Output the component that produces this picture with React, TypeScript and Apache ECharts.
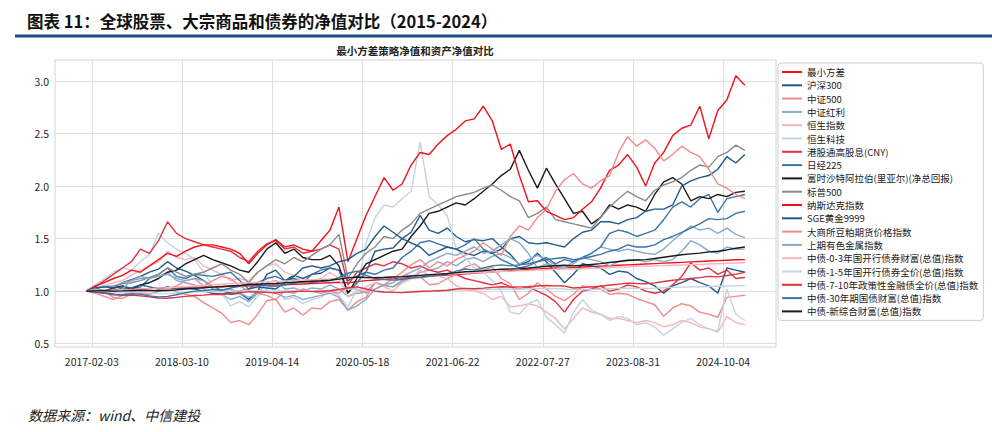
import React, { useEffect, useRef } from 'react';
import * as echarts from 'echarts';

// sample dates: day offsets from 2017-02-03, one sample every 40 days
const firstSampleDay = -24;
const sampleStep = 40;
const sampleCount = 74;
const sampleDays: number[] = Array.from({ length: sampleCount }, (_, i) => firstSampleDay + sampleStep * i);

const xTickDays = [0, 400, 800, 1200, 1600, 2000, 2400, 2800];
const xTickLabels = ['2017-02-03', '2018-03-10', '2019-04-14', '2020-05-18', '2021-06-22', '2022-07-27', '2023-08-31', '2024-10-04'];
const yTickValues = [0.5, 1.0, 1.5, 2.0, 2.5, 3.0];

const seriesNames = [
  '最小方差', '沪深300', '中证500', '中证红利', '恒生指数', '恒生科技', '港股通高股息(CNY)', '日经225',
  '富时沙特阿拉伯(里亚尔)(净总回报)', '标普500', '纳斯达克指数', 'SGE黄金9999', '大商所豆粕期货价格指数',
  '上期有色金属指数', '中债-0-3年国开行债券财富(总值)指数', '中债-1-5年国开行债券全价(总值)指数',
  '中债-7-10年政策性金融债全价(总值)指数', '中债-30年期国债财富(总值)指数', '中债-新综合财富(总值)指数',
];

const minVar = [
  1.000, 1.004, 1.008, 1.010, 1.014, 1.018, 1.020, 1.024, 1.028, 1.030,
  1.034, 1.036, 1.038, 1.040, 1.042, 1.044, 1.046, 1.048, 1.050, 1.052,
  1.055, 1.058, 1.060, 1.064, 1.068, 1.072, 1.076, 1.080, 1.084, 1.078,
  1.090, 1.100, 1.106, 1.112, 1.118, 1.124, 1.130, 1.136, 1.140, 1.146,
  1.152, 1.158, 1.164, 1.170, 1.176, 1.182, 1.188, 1.194, 1.200, 1.208,
  1.212, 1.216, 1.220, 1.222, 1.226, 1.230, 1.234, 1.238, 1.242, 1.246,
  1.250, 1.254, 1.258, 1.262, 1.266, 1.270, 1.274, 1.278, 1.282, 1.286,
  1.290, 1.294, 1.298, 1.300,
];
const hs300 = [
  1.00, 1.02, 1.05, 1.03, 1.08, 1.11, 1.14, 1.18, 1.21, 1.28,
  1.22, 1.19, 1.15, 1.10, 1.04, 1.01, 0.97, 0.98, 0.92, 1.00,
  1.16, 1.20, 1.10, 1.15, 1.12, 1.16, 1.17, 1.22, 1.20, 1.10,
  1.14, 1.18, 1.38, 1.40, 1.41, 1.50, 1.56, 1.72, 1.58, 1.55,
  1.60, 1.52, 1.47, 1.49, 1.48, 1.50, 1.42, 1.35, 1.25, 1.28,
  1.36, 1.28, 1.18, 1.08, 1.16, 1.26, 1.24, 1.22, 1.16, 1.19,
  1.18, 1.12, 1.09, 1.05, 0.98, 1.05, 1.08, 1.12, 1.08, 1.05,
  0.98, 1.22, 1.20, 1.18,
];
const zz500 = [
  1.00, 0.99, 1.00, 0.94, 0.93, 0.97, 0.99, 0.97, 1.00, 1.04,
  0.99, 0.97, 0.95, 0.89, 0.84, 0.79, 0.70, 0.72, 0.68, 0.78,
  0.91, 0.92, 0.80, 0.84, 0.77, 0.84, 0.83, 0.90, 0.92, 0.82,
  0.90, 0.94, 1.08, 1.06, 1.04, 1.08, 1.12, 1.14, 1.06, 1.07,
  1.12, 1.16, 1.23, 1.26, 1.20, 1.23, 1.12, 1.07, 0.92, 0.98,
  1.08, 1.02, 0.95, 0.91, 0.97, 1.05, 1.04, 1.02, 0.97, 0.98,
  0.97, 0.93, 0.90, 0.87, 0.76, 0.84, 0.88, 0.86, 0.80, 0.78,
  0.75, 0.94, 0.95, 0.96,
];
const zzhl = [
  1.00, 1.03, 1.05, 1.04, 1.08, 1.10, 1.12, 1.13, 1.14, 1.18,
  1.10, 1.08, 1.06, 1.02, 0.98, 0.97, 0.92, 0.95, 0.90, 0.98,
  1.08, 1.10, 1.02, 1.03, 1.00, 1.03, 1.02, 1.06, 1.02, 0.95,
  0.98, 0.99, 1.08, 1.05, 1.04, 1.10, 1.12, 1.18, 1.20, 1.22,
  1.28, 1.24, 1.30, 1.32, 1.28, 1.33, 1.36, 1.32, 1.26, 1.30,
  1.34, 1.30, 1.25, 1.22, 1.28, 1.32, 1.36, 1.42, 1.40, 1.38,
  1.40, 1.38, 1.36, 1.35, 1.40, 1.48, 1.55, 1.62, 1.58, 1.60,
  1.55, 1.60, 1.54, 1.51,
];
const hsi = [
  1.00, 1.03, 1.05, 1.08, 1.10, 1.15, 1.20, 1.24, 1.28, 1.38,
  1.32, 1.30, 1.32, 1.24, 1.20, 1.16, 1.10, 1.12, 1.10, 1.18,
  1.24, 1.26, 1.18, 1.15, 1.08, 1.10, 1.12, 1.18, 1.12, 0.95,
  1.00, 1.04, 1.08, 1.04, 1.00, 1.08, 1.12, 1.20, 1.15, 1.14,
  1.12, 1.05, 1.02, 1.00, 0.98, 0.92, 0.95, 0.85, 0.86, 0.88,
  0.86, 0.80, 0.74, 0.64, 0.74, 0.84, 0.80, 0.78, 0.74, 0.74,
  0.72, 0.70, 0.72, 0.70, 0.66, 0.68, 0.72, 0.70, 0.66, 0.64,
  0.61, 0.76, 0.70, 0.68,
];
const hstech = [
  1.00, 1.06, 1.12, 1.18, 1.22, 1.20, 1.28, 1.35, 1.55, 1.46,
  1.40, 1.36, 1.30, 1.18, 1.05, 0.98, 0.86, 0.90, 0.85, 0.95,
  1.02, 1.05, 0.92, 0.94, 0.88, 0.92, 0.94, 1.00, 0.96, 0.85,
  1.02, 1.45, 1.70, 1.82, 1.80, 1.88, 1.95, 2.42, 1.90, 1.82,
  1.72, 1.40, 1.32, 1.22, 1.18, 1.10, 1.00, 0.80, 0.78, 0.88,
  0.92, 0.75, 0.68, 0.60, 0.80, 0.92, 0.82, 0.78, 0.72, 0.76,
  0.74, 0.68, 0.70, 0.66, 0.58, 0.64, 0.70, 0.74, 0.68, 0.64,
  0.62, 1.02, 0.78, 0.72,
];
const hkDividend = [
  1.00, 1.04, 1.10, 1.16, 1.22, 1.28, 1.40, 1.36, 1.48, 1.66,
  1.55, 1.50, 1.47, 1.44, 1.42, 1.40, 1.38, 1.32, 1.28, 1.38,
  1.45, 1.48, 1.40, 1.42, 1.36, 1.38, 1.40, 1.44, 1.40, 1.06,
  1.18, 1.22, 1.26, 1.24, 1.28, 1.26, 1.22, 1.24, 1.20, 1.18,
  1.20, 1.16, 1.12, 1.10, 1.08, 1.06, 1.08, 1.04, 1.02, 1.04,
  1.00, 0.96, 0.90, 0.80, 0.92, 1.00, 1.02, 1.05, 1.00, 1.02,
  1.06, 1.04, 1.00, 0.98, 1.00, 1.06, 1.14, 1.27, 1.20, 1.22,
  1.16, 1.20, 1.12, 1.13,
];
const nikkei = [
  1.00, 0.99, 0.98, 1.00, 1.03, 1.02, 1.04, 1.12, 1.16, 1.22,
  1.14, 1.12, 1.16, 1.15, 1.14, 1.16, 1.18, 1.10, 1.02, 1.08,
  1.12, 1.14, 1.10, 1.12, 1.08, 1.16, 1.20, 1.22, 1.20, 0.98,
  1.08, 1.18, 1.16, 1.20, 1.22, 1.32, 1.38, 1.46, 1.48, 1.45,
  1.42, 1.40, 1.44, 1.50, 1.40, 1.36, 1.30, 1.26, 1.22, 1.24,
  1.28, 1.32, 1.26, 1.30, 1.28, 1.32, 1.36, 1.42, 1.55, 1.58,
  1.56, 1.52, 1.55, 1.58, 1.68, 1.80, 1.85, 1.80, 1.88, 1.92,
  1.75, 1.88, 1.90, 1.92,
];
const saudi = [
  1.00, 1.02, 1.00, 1.03, 1.05, 1.02, 1.06, 1.08, 1.12, 1.18,
  1.20, 1.26, 1.30, 1.34, 1.30, 1.27, 1.24, 1.20, 1.18, 1.28,
  1.40, 1.46, 1.36, 1.40, 1.32, 1.30, 1.30, 1.34, 1.24, 0.98,
  1.12, 1.26, 1.30, 1.34, 1.38, 1.40, 1.52, 1.62, 1.74, 1.76,
  1.80, 1.84, 1.82, 1.88, 1.95, 2.02, 2.10, 2.16, 2.34, 2.15,
  1.98, 2.17, 2.02, 1.88, 1.74, 1.76, 1.64, 1.70, 1.82, 1.78,
  1.82, 1.80, 1.76, 1.92, 2.04, 2.08, 2.02, 1.86, 1.90, 1.88,
  1.92, 1.90, 1.94, 1.95,
];
const spx = [
  1.00, 1.03, 1.04, 1.05, 1.07, 1.08, 1.10, 1.13, 1.16, 1.22,
  1.18, 1.14, 1.16, 1.18, 1.22, 1.26, 1.20, 1.16, 1.08, 1.18,
  1.24, 1.30, 1.26, 1.32, 1.28, 1.34, 1.40, 1.44, 1.54, 1.12,
  1.26, 1.36, 1.42, 1.52, 1.50, 1.58, 1.64, 1.74, 1.78, 1.82,
  1.86, 1.90, 1.92, 1.94, 1.98, 2.01, 1.96, 1.90, 1.86, 1.70,
  1.74, 1.80, 1.68, 1.66, 1.64, 1.62, 1.60, 1.70, 1.80, 1.88,
  1.95, 1.90, 1.86, 1.96, 2.01, 2.04, 2.08, 2.15, 2.20, 2.18,
  2.28, 2.32, 2.39, 2.34,
];
const nasdaq = [
  1.00, 1.05, 1.08, 1.12, 1.15, 1.20, 1.18, 1.24, 1.30, 1.36,
  1.33, 1.38, 1.42, 1.44, 1.44, 1.42, 1.40, 1.36, 1.26, 1.36,
  1.44, 1.49, 1.42, 1.44, 1.40, 1.38, 1.48, 1.58, 1.80, 1.28,
  1.50, 1.72, 1.90, 2.08, 1.96, 2.02, 2.20, 2.32, 2.30, 2.40,
  2.48, 2.54, 2.62, 2.64, 2.76, 2.62, 2.35, 2.40, 2.10, 1.85,
  1.86, 1.76, 1.72, 1.68, 1.70, 1.78, 1.85, 1.98, 2.15, 2.20,
  2.30, 2.18, 2.00, 2.22, 2.32, 2.48, 2.55, 2.58, 2.76, 2.45,
  2.72, 2.82, 3.05, 2.96,
];
const gold = [
  1.00, 1.03, 1.04, 1.03, 1.04, 1.03, 1.06, 1.04, 1.02, 1.04,
  1.02, 1.03, 1.02, 1.00, 0.98, 0.97, 0.99, 1.00, 1.02, 1.04,
  1.03, 1.02, 1.08, 1.14, 1.22, 1.24, 1.22, 1.24, 1.28, 1.30,
  1.36, 1.40, 1.52, 1.62, 1.56, 1.50, 1.46, 1.42, 1.34, 1.38,
  1.42, 1.40, 1.36, 1.34, 1.38, 1.36, 1.40, 1.50, 1.52, 1.46,
  1.45, 1.46, 1.44, 1.42, 1.50, 1.56, 1.58, 1.66, 1.66, 1.64,
  1.68, 1.70, 1.76, 1.78, 1.78, 1.82, 2.00, 2.05, 2.08, 2.10,
  2.16, 2.28, 2.22, 2.30,
];
const soymeal = [
  1.00, 0.98, 0.95, 0.92, 0.96, 1.00, 0.98, 0.97, 1.00, 1.02,
  1.05, 1.10, 1.12, 1.05, 1.10, 1.14, 1.12, 1.05, 1.00, 0.98,
  0.96, 0.92, 1.00, 0.98, 1.02, 1.00, 0.98, 1.00, 0.98, 1.04,
  1.02, 0.98, 1.02, 1.06, 1.12, 1.18, 1.25, 1.30, 1.22, 1.28,
  1.24, 1.30, 1.34, 1.38, 1.46, 1.40, 1.34, 1.52, 1.62, 1.58,
  1.70, 1.78, 1.95, 2.06, 2.12, 2.02, 1.98, 2.05, 2.10, 2.32,
  2.47, 2.38, 2.44, 2.36, 2.24, 2.30, 2.38, 2.32, 2.28, 2.16,
  2.02, 1.98, 1.92, 1.88,
];
const shfeMetals = [
  1.00, 1.02, 1.00, 0.98, 1.02, 1.10, 1.14, 1.12, 1.14, 1.16,
  1.12, 1.10, 1.12, 1.10, 1.02, 1.00, 1.02, 0.98, 0.94, 0.98,
  1.00, 0.98, 0.94, 0.96, 0.92, 0.94, 0.96, 0.98, 0.94, 0.82,
  0.86, 0.92, 1.02, 1.06, 1.08, 1.14, 1.18, 1.22, 1.28, 1.32,
  1.36, 1.34, 1.38, 1.42, 1.36, 1.38, 1.44, 1.50, 1.46, 1.36,
  1.22, 1.26, 1.24, 1.22, 1.26, 1.32, 1.30, 1.28, 1.24, 1.28,
  1.30, 1.30, 1.28, 1.30, 1.28, 1.30, 1.38, 1.48, 1.44, 1.38,
  1.36, 1.42, 1.40, 1.40,
];
const cdb03 = [
  1.000, 1.003, 1.006, 1.008, 1.012, 1.016, 1.020, 1.024, 1.028, 1.032,
  1.036, 1.042, 1.048, 1.054, 1.060, 1.065, 1.070, 1.075, 1.080, 1.084,
  1.088, 1.092, 1.096, 1.100, 1.104, 1.108, 1.112, 1.116, 1.120, 1.126,
  1.130, 1.130, 1.132, 1.135, 1.138, 1.142, 1.146, 1.150, 1.154, 1.158,
  1.162, 1.166, 1.170, 1.174, 1.178, 1.182, 1.186, 1.190, 1.193, 1.196,
  1.200, 1.204, 1.208, 1.210, 1.210, 1.213, 1.216, 1.220, 1.224, 1.228,
  1.231, 1.234, 1.237, 1.240, 1.243, 1.246, 1.249, 1.252, 1.255, 1.258,
  1.261, 1.264, 1.267, 1.270,
];
const cdb15 = [
  1.000, 0.996, 0.992, 0.988, 0.986, 0.988, 0.985, 0.982, 0.978, 0.976,
  0.980, 0.985, 0.990, 0.994, 0.996, 0.994, 0.998, 1.002, 1.006, 1.004,
  1.002, 1.000, 1.002, 1.004, 1.006, 1.004, 1.005, 1.008, 1.014, 1.022,
  1.018, 1.005, 0.996, 0.992, 0.990, 0.992, 0.996, 0.998, 1.000, 1.002,
  1.004, 1.010, 1.012, 1.010, 1.014, 1.018, 1.020, 1.018, 1.020, 1.022,
  1.024, 1.026, 1.024, 1.020, 1.012, 1.014, 1.016, 1.018, 1.022, 1.026,
  1.028, 1.026, 1.026, 1.028, 1.032, 1.036, 1.038, 1.040, 1.042, 1.044,
  1.046, 1.048, 1.050, 1.052,
];
const pfb710 = [
  1.000, 0.990, 0.980, 0.965, 0.960, 0.962, 0.955, 0.945, 0.935, 0.932,
  0.940, 0.950, 0.958, 0.962, 0.970, 0.968, 0.975, 0.985, 0.995, 0.992,
  0.988, 0.985, 0.990, 0.995, 1.000, 0.995, 0.998, 1.004, 1.015, 1.030,
  1.040, 1.020, 1.000, 0.992, 0.988, 0.986, 0.992, 0.996, 1.000, 1.004,
  1.008, 1.020, 1.026, 1.022, 1.028, 1.036, 1.042, 1.038, 1.040, 1.042,
  1.048, 1.054, 1.050, 1.048, 1.030, 1.034, 1.040, 1.046, 1.058, 1.066,
  1.076, 1.072, 1.070, 1.078, 1.092, 1.104, 1.112, 1.120, 1.128, 1.140,
  1.136, 1.148, 1.162, 1.178,
];
const cgb30 = [
  1.000, 0.990, 0.985, 0.970, 0.965, 0.975, 0.970, 0.955, 0.945, 0.950,
  0.965, 0.985, 1.000, 1.005, 1.015, 1.010, 1.030, 1.045, 1.070, 1.060,
  1.050, 1.045, 1.060, 1.075, 1.090, 1.085, 1.090, 1.100, 1.130, 1.170,
  1.190, 1.150, 1.120, 1.110, 1.105, 1.110, 1.125, 1.130, 1.140, 1.150,
  1.160, 1.190, 1.210, 1.200, 1.220, 1.240, 1.250, 1.240, 1.250, 1.260,
  1.280, 1.300, 1.310, 1.320, 1.300, 1.310, 1.330, 1.350, 1.380, 1.400,
  1.440, 1.420, 1.420, 1.440, 1.490, 1.520, 1.560, 1.600, 1.640, 1.690,
  1.680, 1.690, 1.740, 1.760,
];
const cbComposite = [
  1.000, 1.002, 1.004, 1.000, 1.002, 1.006, 1.008, 1.006, 1.004, 1.006,
  1.012, 1.020, 1.026, 1.032, 1.038, 1.042, 1.048, 1.054, 1.062, 1.066,
  1.070, 1.072, 1.078, 1.084, 1.090, 1.094, 1.098, 1.104, 1.114, 1.126,
  1.134, 1.130, 1.128, 1.130, 1.134, 1.138, 1.144, 1.150, 1.156, 1.162,
  1.168, 1.176, 1.184, 1.188, 1.194, 1.202, 1.208, 1.210, 1.214, 1.220,
  1.228, 1.236, 1.242, 1.246, 1.240, 1.246, 1.254, 1.262, 1.272, 1.282,
  1.292, 1.296, 1.300, 1.310, 1.322, 1.334, 1.346, 1.354, 1.362, 1.374,
  1.380, 1.392, 1.408, 1.420,
];

const seriesValues = [
  minVar, hs300, zz500, zzhl, hsi, hstech, hkDividend, nikkei, saudi, spx,
  nasdaq, gold, soymeal, shfeMetals, cdb03, cdb15, pfb710, cgb30, cbComposite,
];

const palette = [
  '#f3121c', '#1f5a8a', '#f38a8c', '#88aacb', '#f6b4bd',
  '#c3d3e2', '#e3313d', '#3b74a6', '#1a1a1a', '#8a8a8a',
];

const CJK = '"Noto Sans CJK SC", "Noto Sans", sans-serif';

export default function App() {
  const ref = useRef<HTMLDivElement>(null);

  useEffect(() => {
    if (!ref.current) return;
    const chart = echarts.init(ref.current, null, { renderer: 'svg', width: 992, height: 432 });

    const series = seriesNames.map((name, k) => ({
      name,
      type: 'line',
      color: palette[k % palette.length],
      data: sampleDays.map((d, i) => [d, seriesValues[k][i]]),
      symbol: 'none',
      showSymbol: false,
      lineStyle: { width: 1.4 },
      silent: true,
      emphasis: { disabled: true },
      z: 2,
    }));

    chart.setOption({
      animation: false,
      backgroundColor: '#ffffff',
      grid: {
        left: 55, top: 60, width: 721, height: 287,
        show: true, borderColor: '#d4d4d4', borderWidth: 1, backgroundColor: 'transparent',
      },
      xAxis: {
        type: 'value',
        min: -163,
        max: 3034,
        axisLine: { show: false },
        axisTick: { show: false, customValues: xTickDays },
        axisLabel: {
          customValues: xTickDays,
          formatter: (v: number) => {
            const idx = xTickDays.indexOf(Math.round(v));
            return idx >= 0 ? xTickLabels[idx] : '';
          },
          fontSize: 10.5,
          color: '#262626',
          fontFamily: CJK,
          margin: 9,
        },
        splitLine: { show: true, lineStyle: { color: '#dedede', width: 1 } },
      },
      yAxis: {
        type: 'value',
        min: 0.468,
        max: 3.2,
        axisLine: { show: false },
        axisTick: { show: false, customValues: yTickValues },
        axisLabel: {
          customValues: yTickValues,
          formatter: (v: number) => v.toFixed(1),
          fontSize: 10.5,
          color: '#262626',
          fontFamily: CJK,
          margin: 6,
        },
        splitLine: { show: true, lineStyle: { color: '#dedede', width: 1 } },
      },
      legend: {
        orient: 'vertical',
        left: 778,
        top: 63,
        icon: 'rect',
        itemWidth: 20,
        itemHeight: 2,
        itemGap: 1.3,
        padding: [3, 5, 3, 4],
        borderColor: '#cfcfcf',
        borderWidth: 1,
        borderRadius: 3,
        backgroundColor: '#ffffff',
        selectedMode: false,
        textStyle: { fontSize: 9.5, lineHeight: 12, color: '#222222', fontFamily: CJK },
        data: seriesNames,
      },
      graphic: [
        {
          type: 'text',
          x: 27,
          y: 20.5,
          style: {
            text: '图表 11：全球股票、大宗商品和债券的净值对比（2015-2024）',
            font: `bold 16.5px ${CJK}`,
            fill: '#111111',
            verticalAlign: 'middle',
            textVerticalAlign: 'middle',
          },
        },
        {
          type: 'rect',
          shape: { x: 15, y: 34.5, width: 977, height: 3 },
          style: { fill: '#1b4f84' },
        },
        {
          type: 'text',
          x: 415,
          y: 50.5,
          style: {
            text: '最小方差策略净值和资产净值对比',
            font: `bold 10.5px ${CJK}`,
            fill: '#222222',
            align: 'center',
            textAlign: 'center',
            verticalAlign: 'middle',
            textVerticalAlign: 'middle',
          },
        },
        {
          type: 'text',
          x: 28,
          y: 415,
          style: {
            text: '数据来源：wind、中信建投',
            font: `italic 14px ${CJK}`,
            fill: '#222222',
            verticalAlign: 'middle',
            textVerticalAlign: 'middle',
          },
        },
      ],
      series,
    });

    return () => chart.dispose();
  }, []);

  return (
    <div
      ref={ref}
      style={{ position: 'absolute', left: 0, top: 0, width: 992, height: 432, background: '#ffffff' }}
    />
  );
}
